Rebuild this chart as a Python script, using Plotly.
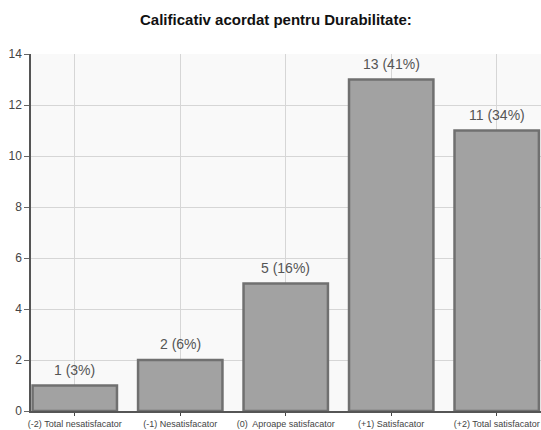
import plotly.graph_objects as go

# Rating categories and response counts
categories = [
    "(-2) Total nesatisfacator",
    "(-1) Nesatisfacator",
    "(0)  Aproape satisfacator",
    "(+1) Satisfacator",
    "(+2) Total satisfacator",
]
counts = [1, 2, 5, 13, 11]
y_ticks = [0, 2, 4, 6, 8, 10, 12, 14]

total = sum(counts)
labels = [f"{c} ({round(100 * c / total)}%)" for c in counts]
positions = list(range(len(categories)))

fig = go.Figure()
fig.add_trace(go.Bar(
    x=positions,
    y=counts,
    width=0.8,
    marker=dict(
        color="#a2a2a2",
        line=dict(color="#707070", width=2.5),
    ),
    hoverinfo="skip",
))

# Value labels floating a little above each bar
for x, c, lab in zip(positions, counts, labels):
    fig.add_annotation(
        x=x, y=c, text=lab, showarrow=False,
        yanchor="bottom", yshift=6,
        font=dict(family="Liberation Sans, Arial", size=14, color="#555555"),
    )

fig.update_layout(
    width=541,
    height=430,
    margin=dict(l=31, r=0, t=54, b=19),
    paper_bgcolor="#ffffff",
    plot_bgcolor="#f9f9f9",
    showlegend=False,
    title=dict(
        text="<b>Calificativ acordat pentru Durabilitate:</b>",
        x=0.51, xanchor="center",
        y=1 - 20 / 430, yanchor="middle",
        font=dict(family="Liberation Sans, Arial", size=15, color="#111111"),
    ),
    font=dict(family="Liberation Sans, Arial", color="#444444"),
)

fig.update_xaxes(
    range=[-0.415, 4.42],
    tickmode="array",
    tickvals=positions,
    ticktext=categories,
    tickfont=dict(size=9, color="#444444"),
    ticks="outside", ticklen=3, tickcolor="#444444",
    showline=True, linecolor="#555555", linewidth=1.5,
    showgrid=True, gridcolor="#d6d6d6", gridwidth=1,
    zeroline=False,
    automargin=False,
    fixedrange=True,
)
fig.update_yaxes(
    range=[0, 14],
    tickmode="array",
    tickvals=y_ticks,
    tickfont=dict(size=12, color="#444444"),
    ticks="outside", ticklen=5, tickcolor="#666666",
    showline=True, linecolor="#555555", linewidth=1.5,
    showgrid=True, gridcolor="#d6d6d6", gridwidth=1,
    zeroline=False,
    automargin=False,
    fixedrange=True,
)

fig.write_html("out.html")
